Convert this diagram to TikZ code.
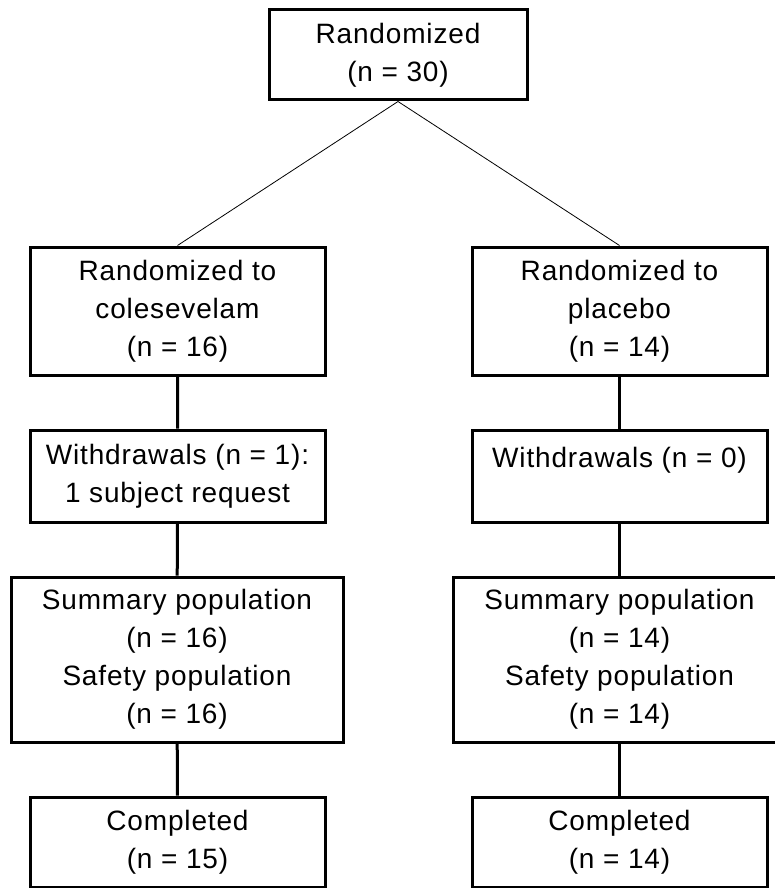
\documentclass[tikz,border=0pt]{standalone}
\usepackage{fontspec}
\setmainfont[LetterSpace=3]{Liberation Sans}
\newcommand{\boxLine}[0]{3pt}
\newcommand{\splitLine}[0]{0.8pt}
\newcommand{\armWidth}[0]{295pt}
\newcommand{\popWidth}[0]{332pt}

\begin{document}
\begin{tikzpicture}[x=1pt, y=-1pt]
  \tikzset{flow box/.style={draw, line width=\boxLine, align=center, inner sep=0pt,
      font=\fontsize{28}{38}\selectfont, minimum width=\armWidth}}
  \useasboundingbox (0,0) rectangle (775,888);
  \node[flow box, minimum width=258pt, minimum height=90pt] (Rand-0) at (398,55) {Randomized\\(n = 30)};
  \node[flow box, minimum height=128pt] (Rand-1) at (177.5,311) {Randomized to\\colesevelam\\(n = 16)};
  \node[flow box, minimum height=128pt] (Rand-2) at (619.5,311) {Randomized to\\placebo\\(n = 14)};
  \node[flow box, minimum height=92pt] (WD-1) at (177.5,476) {Withdrawals (n = 1):\\1 subject request};
  \node[flow box, minimum height=92pt] (WD-2) at (619.5,476) {Withdrawals (n = 0)\\\mbox{}};
  \node[flow box, minimum width=\popWidth, minimum height=165pt] (Pop-1) at (177,659.5)
    {Summary population\\(n = 16)\\Safety population\\(n = 16)};
  \node[flow box, minimum width=\popWidth, minimum height=165pt] (Pop-2) at (619.5,659.5)
    {Summary population\\(n = 14)\\Safety population\\(n = 14)};
  \node[flow box, minimum height=90pt] (Done-1) at (177.5,842) {Completed\\(n = 15)};
  \node[flow box, minimum height=90pt] (Done-2) at (619.5,842) {Completed\\(n = 14)};
  \draw[line width=\splitLine] (Rand-0.south) -- (Rand-1.north);
  \draw[line width=\splitLine] (Rand-0.south) -- (Rand-2.north);
  \draw[line width=\boxLine] (Rand-1) -- (WD-1) -- (Pop-1) -- (Done-1);
  \draw[line width=\boxLine] (Rand-2) -- (WD-2) -- (Pop-2) -- (Done-2);
\end{tikzpicture}
\end{document}
